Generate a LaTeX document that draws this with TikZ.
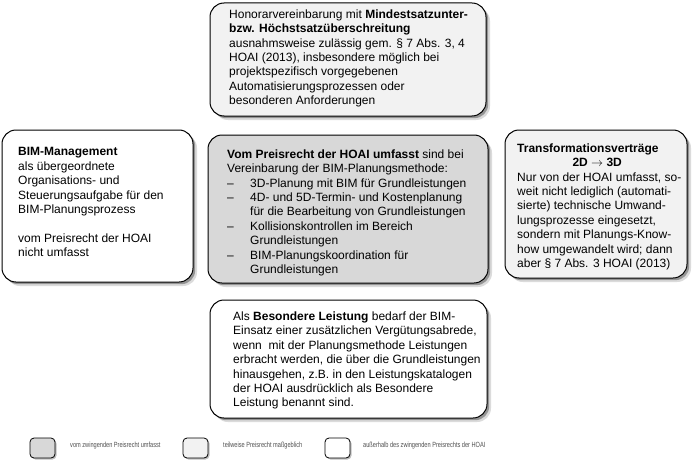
\documentclass[tikz,border=0pt]{standalone}
\usepackage{fontspec}
\setmainfont{Liberation Sans}
\usetikzlibrary{shadows}
\definecolor{darkfill}{HTML}{D8D8D8}
\definecolor{lightfill}{HTML}{F2F2F2}
\definecolor{legtext}{HTML}{505050}
\begin{document}
\begin{tikzpicture}[x=1pt,y=-1pt,
  box/.style={draw=black, line width=1pt, rounded corners=14pt, anchor=north west,
    inner sep=0pt, outer sep=0pt,
    drop shadow={shadow xshift=4pt, shadow yshift=-4pt, fill=black!40, opacity=0.35},
    drop shadow={shadow xshift=2.2pt, shadow yshift=-2.2pt, fill=black!60, opacity=0.6}},
  legbox/.style={draw=black, line width=0.8pt, rounded corners=4pt, anchor=north west,
    inner sep=0pt, outer sep=0pt, minimum width=25pt, minimum height=20pt,
    drop shadow={shadow xshift=1.5pt, shadow yshift=-1.5pt, fill=black!50, opacity=0.5}},
  txt/.style={anchor=north west, inner sep=0pt, align=left,
    font=\fontsize{12}{14.4}\selectfont},
  legtxt/.style={anchor=west, inner sep=0pt, text=legtext,
    font=\fontsize{7.5}{9}\selectfont}]
\useasboundingbox (0,0) rectangle (700,468);
\fill[white] (0,0) rectangle (700,468);

% boxes
\node[box, fill=lightfill, minimum width=276pt, minimum height=113pt] (topbox) at (210,3) {};
\node[box, fill=white, minimum width=191pt, minimum height=152pt] (leftbox) at (2,130) {};
\node[box, fill=darkfill, minimum width=280pt, minimum height=148pt] (centerbox) at (208,135) {};
\node[box, fill=lightfill, minimum width=182pt, minimum height=148pt] (rightbox) at (505,130) {};
\node[box, fill=white, minimum width=277pt, minimum height=118pt] (bottombox) at (210,300) {};

% texts
\node[txt] (toptext) at (229,9.5) {Honorarvereinbarung mit \textbf{Mindestsatzunter-}\\
\textbf{bzw. Höchstsatzüberschreitung}\\
ausnahmsweise zulässig gem. § 7 Abs. 3, 4\\
HOAI (2013), insbesondere möglich bei\\
projektspezifisch vorgegebenen\\
Automatisierungsprozessen oder\\
besonderen Anforderungen};

\node[txt] (lefttext) at (18,147.5) {\textbf{BIM-Management}\\
als übergeordnete\\
Organisations- und\\
Steuerungsaufgabe für den\\
BIM-Planungsprozess\\[14.4pt]
vom Preisrecht der HOAI\\
nicht umfasst};

\node[txt] (centertext) at (227,149.5) {\textbf{Vom Preisrecht der HOAI umfasst} sind bei\\
Vereinbarung der BIM-Planungsmethode:\\
\makebox[23pt][l]{–}3D-Planung mit BIM für Grundleistungen\\
\makebox[23pt][l]{–}4D- und 5D-Termin- und Kostenplanung\\
\hspace*{23pt}für die Bearbeitung von Grundleistungen\\
\makebox[23pt][l]{–}Kollisionskontrollen im Bereich\\
\hspace*{23pt}Grundleistungen\\
\makebox[23pt][l]{–}BIM-Planungskoordination für\\
\hspace*{23pt}Grundleistungen};

\node[txt] (righttext) at (517,143.5) {\textbf{Transformationsverträge}\\
\makebox[160pt][c]{\textbf{2D $\rightarrow$ 3D}}\\
Nur von der HOAI umfasst, so-\\
weit nicht lediglich (automati-\\
sierte) technische Umwand-\\
lungsprozesse eingesetzt,\\
sondern mit Planungs-Know-\\
how umgewandelt wird; dann\\
aber § 7 Abs. 3 HOAI (2013)};

\node[txt] (bottomtext) at (233,311.5) {Als \textbf{Besondere Leistung} bedarf der BIM-\\
Einsatz einer zusätzlichen Vergütungsabrede,\\
wenn\ \ mit der Planungsmethode Leistungen\\
erbracht werden, die über die Grundleistungen\\
hinausgehen, z.B. in den Leistungskatalogen\\
der HOAI ausdrücklich als Besondere\\
Leistung benannt sind.};

% legend
\node[legbox, fill=darkfill] (leg1) at (30,438) {};
\node[legtxt] (leg1t) at (70,446) {\scalebox{0.75}[1]{vom zwingenden Preisrecht umfasst}};
\node[legbox, fill=lightfill] (leg2) at (183,438) {};
\node[legtxt] (leg2t) at (223,446) {\scalebox{0.75}[1]{teilweise Preisrecht maßgeblich}};
\node[legbox, fill=white] (leg3) at (325,438) {};
\node[legtxt] (leg3t) at (363,446) {\scalebox{0.75}[1]{außerhalb des zwingenden Preisrechts der HOAI}};
\end{tikzpicture}
\end{document}
